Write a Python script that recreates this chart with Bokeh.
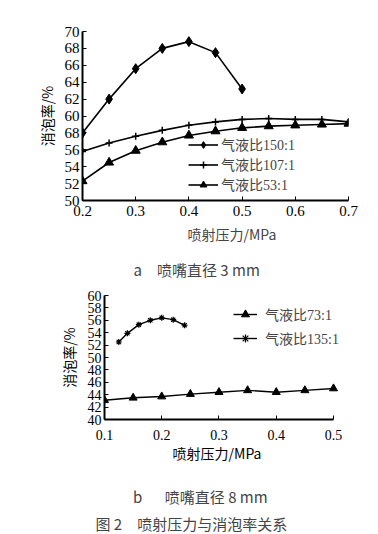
from bokeh.plotting import figure
from bokeh.models import FixedTicker, Range1d, Title, Legend
from bokeh.embed import file_html
from bokeh.resources import INLINE

# ---- data: panel a (nozzle 3 mm)
a150_x = [0.2, 0.25, 0.3, 0.35, 0.4, 0.45, 0.5]
a150_y = [58.0, 62.0, 65.6, 68.0, 68.8, 67.5, 63.2]
a_x = [0.2, 0.25, 0.3, 0.35, 0.4, 0.45, 0.5, 0.55, 0.6, 0.65, 0.7]
a107_y = [55.8, 56.8, 57.6, 58.3, 58.9, 59.3, 59.6, 59.7, 59.6, 59.6, 59.3]
a53_y = [52.3, 54.5, 55.9, 56.9, 57.7, 58.2, 58.6, 58.8, 58.9, 59.0, 59.1]
a_xticks = [0.2, 0.3, 0.4, 0.5, 0.6, 0.7]
a_yticks = [50, 52, 54, 56, 58, 60, 62, 64, 66, 68, 70]
a_ylabels = ["50", "52", "54", "56", "68", "60", "62", "64", "66", "68", "70"]

# ---- data: panel b (nozzle 8 mm)
b73_x = [0.1, 0.15, 0.2, 0.25, 0.3, 0.35, 0.4, 0.45, 0.5]
b73_y = [43.1, 43.5, 43.7, 44.1, 44.4, 44.7, 44.4, 44.7, 45.0]
b135_x = [0.125, 0.14, 0.16, 0.18, 0.2, 0.22, 0.24]
b135_y = [52.5, 53.9, 55.3, 56.0, 56.4, 56.1, 55.2]
b_xticks = [0.1, 0.2, 0.3, 0.4, 0.5]
b_yticks = [40, 42, 44, 46, 48, 50, 52, 54, 56, 58, 60]

# ---- texts
xlabel = "喷射压力/MPa"
ylabel = "消泡率/%"
cap_a = "a\u2003喷嘴直径 3 mm"
cap_b = "b\u2003\u2002喷嘴直径 8 mm"
cap_fig = "图 2\u2003喷射压力与消泡率关系"

SERIF = "Liberation Serif"
CJK = "Noto Sans CJK SC"
MIX = "Liberation Serif, Noto Sans CJK SC"
EM = "\u2003"
EN = "\u2002"


def style_axes(p, tick_size, tick_standoff, ylabel_standoff):
    for ax in (p.xaxis[0], p.yaxis[0]):
        ax.axis_line_width = 2
        ax.axis_line_color = "black"
        ax.major_tick_in = 4
        ax.major_tick_out = 0
        ax.minor_tick_line_color = None
        ax.major_tick_line_color = "black"
        ax.major_tick_line_width = 1
        ax.major_label_text_font = SERIF
        ax.major_label_text_font_size = tick_size
        ax.major_label_text_color = "black"
        ax.axis_label_text_font = CJK
        ax.axis_label_text_font_style = "normal"
        ax.axis_label_text_font_size = "14px"
        ax.axis_label_text_color = "black"
    p.xaxis[0].major_label_standoff = tick_standoff
    p.yaxis[0].major_label_standoff = 3
    p.yaxis[0].axis_label = ylabel
    p.yaxis[0].axis_label_standoff = ylabel_standoff
    p.xgrid.grid_line_color = None
    p.ygrid.grid_line_color = None
    p.outline_line_color = None


# ---------------- panel a
pa = figure(width=362, height=223, output_backend="svg", toolbar_location=None,
            x_range=Range1d(0.2, 0.7), y_range=Range1d(50, 70),
            min_border_left=82, min_border_right=14, min_border_top=31,
            min_border_bottom=23)
pa.xaxis.ticker = FixedTicker(ticks=a_xticks)
pa.yaxis.ticker = FixedTicker(ticks=a_yticks)
pa.yaxis.major_label_overrides = {t: l for t, l in zip(a_yticks, a_ylabels)}
style_axes(pa, "15px", 5, 5)

l1 = pa.line(a150_x, a150_y, line_color="black", line_width=1.6)
m1 = pa.scatter(a150_x, a150_y, marker="diamond", size=10, color="black")
l2 = pa.line(a_x, a107_y, line_color="black", line_width=1.6)
m2 = pa.scatter(a_x, a107_y, marker="cross", size=7, color="black", line_width=1.5)
l3 = pa.line(a_x, a53_y, line_color="black", line_width=1.6)
m3 = pa.scatter(a_x, a53_y, marker="triangle", size=9, color="black")

lega = Legend(items=[("气液比150:1", [l1, m1]), ("气液比107:1", [l2, m2]),
                     ("气液比53:1", [l3, m3])],
              location=(106, 6), glyph_width=30, glyph_height=17, spacing=-2,
              padding=0, margin=0, label_standoff=3,
              label_text_font=MIX, label_text_font_size="14px",
              background_fill_alpha=0, border_line_color=None)
pa.add_layout(lega, "center")

# ---------------- panel b (also carries the x label and caption of panel a above it)
pb = figure(width=362, height=311, output_backend="svg", toolbar_location=None,
            x_range=Range1d(0.1, 0.5297), y_range=Range1d(40, 60),
            min_border_left=104, min_border_right=12, min_border_top=72,
            min_border_bottom=115)
pb.xaxis.ticker = FixedTicker(ticks=b_xticks)
pb.xaxis.bounds = (0.1, 0.5)
pb.yaxis.ticker = FixedTicker(ticks=b_yticks)
style_axes(pb, "14px", 10, 6)
pb.xaxis.axis_label = xlabel + EM + EN
pb.xaxis.axis_label_standoff = 0

k1 = pb.line(b73_x, b73_y, line_color="black", line_width=1.4)
n1 = pb.scatter(b73_x, b73_y, marker="triangle", size=8, color="black")
k2 = pb.line(b135_x, b135_y, line_color="black", line_width=1.4)
n2 = pb.scatter(b135_x, b135_y, marker="asterisk", size=6, color="black", line_width=1.2)

legb = Legend(items=[("气液比73:1", [k1, n1]), ("气液比135:1", [k2, n2])],
              location=(129, 71), glyph_width=24, glyph_height=20, spacing=4,
              padding=0, margin=0, label_standoff=8,
              label_text_font=MIX, label_text_font_size="14px",
              background_fill_alpha=0, border_line_color=None)
pb.add_layout(legb, "center")

# above: caption of panel a (nearest the frame), then x label of panel a
pb.add_layout(Title(text=cap_a, align="left", offset=29,
                    text_font=CJK, text_font_size="15px", text_font_style="normal",
                    standoff=31), "above")
pb.add_layout(Title(text=xlabel, align="left", offset=83,
                    text_font=CJK, text_font_size="14px", text_font_style="normal",
                    standoff=-4), "above")
# below: caption of panel b and figure caption
pb.add_layout(Title(text=EM + "\n" + EM * 2 + EN + cap_b + "\n" + cap_fig,
                    align="left", offset=-9,
                    text_font=CJK, text_font_size="15px", text_font_style="normal",
                    text_line_height=1.28, standoff=-17), "below")

open("out.html", "w").write(file_html([pa, pb], INLINE))
